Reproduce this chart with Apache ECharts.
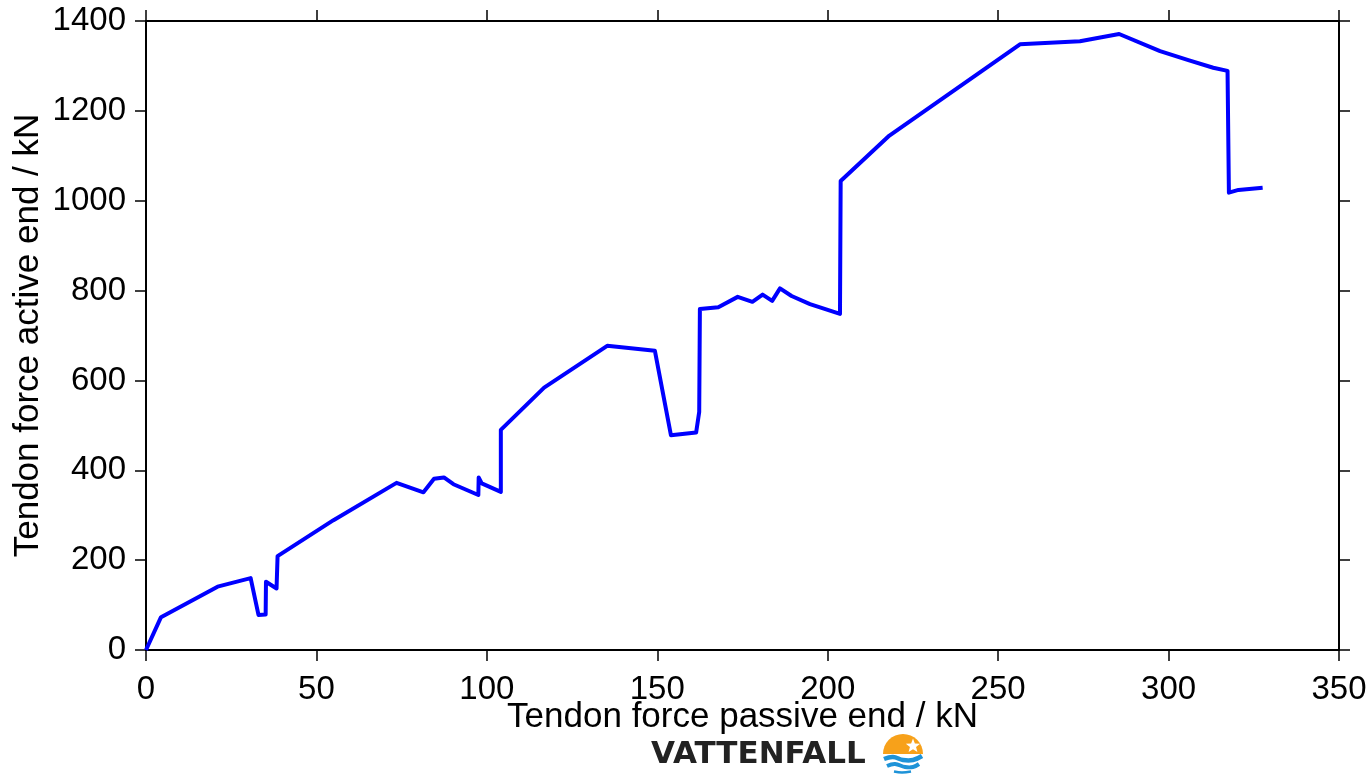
<!DOCTYPE html>
<html>
<head>
<meta charset="utf-8">
<script src="https://cdn.jsdelivr.net/npm/echarts@6/dist/echarts.min.js"></script>
<style>
html,body{margin:0;padding:0;background:#fff;}
#chart{width:1371px;height:779px;}
</style>
</head>
<body>
<div id="chart"></div>
<script>
// Tendon force passive end / kN
var passiveEnd = [0, 4.4, 21.0, 30.7, 33.0, 35.1, 35.2, 38.3, 38.6, 55.0, 73.5, 81.4, 84.5, 87.4, 90.2, 97.5, 97.6, 98.5, 104.1, 104.1, 116.8, 135.3, 149.3, 154.0, 161.4, 162.3, 162.5, 167.9, 173.6, 177.9, 180.9, 183.7, 186.0, 189.4, 194.8, 203.6, 203.8, 218.1, 256.4, 274.0, 285.5, 297.5, 305.8, 313.1, 317.3, 317.7, 320.5, 327.6];
// Tendon force active end / kN
var activeEnd = [0, 73, 141, 160, 78, 79, 152, 137, 209, 289, 372, 351, 381, 384, 369, 345, 384, 371, 352, 490, 584, 677, 666, 478, 484, 530, 759, 763, 786, 775, 791, 777, 805, 788, 770, 748, 1044, 1145, 1348, 1355, 1371, 1333, 1313, 1296, 1289, 1018, 1024, 1029];
var xTicks = [0, 50, 100, 150, 200, 250, 300, 350];
var yTicks = [0, 200, 400, 600, 800, 1000, 1200, 1400];

var seriesData = passiveEnd.map(function (v, i) { return [v, activeEnd[i]]; });

var FONT = '"Liberation Sans", Arial, sans-serif';
var axisLineStyle = { color: '#000', width: 2 };
var tickStyle = { show: true, inside: false, length: 11, lineStyle: { color: '#000', width: 1.5 } };
var plainFmt = function (v) { return String(v); };

function star(cx, cy, ro, ri) {
  var pts = [];
  for (var k = 0; k < 10; k++) {
    var r = k % 2 === 0 ? ro : ri;
    var a = -Math.PI / 2 + k * Math.PI / 5;
    pts.push([cx + r * Math.cos(a), cy + r * Math.sin(a)]);
  }
  return pts;
}

var chart = echarts.init(document.getElementById('chart'), null, { renderer: 'canvas' });
chart.setOption({
  animation: false,
  backgroundColor: '#fff',
  grid: { left: 146, right: 32, top: 21, bottom: 129, containLabel: false, outerBoundsMode: 'none' },
  xAxis: [{
    type: 'value', position: 'bottom', min: xTicks[0], max: xTicks[xTicks.length - 1], interval: 50,
    name: 'Tendon force passive end / kN', nameLocation: 'middle', nameGap: 50, nameMoveOverlap: false,
    nameTextStyle: { fontFamily: FONT, fontSize: 35, color: '#000' },
    axisLine: { show: true, onZero: false, lineStyle: axisLineStyle },
    axisTick: tickStyle,
    axisLabel: { show: true, margin: 23, fontFamily: FONT, fontSize: 33, color: '#000', formatter: plainFmt },
    splitLine: { show: false }
  }, {
    type: 'value', position: 'top', min: xTicks[0], max: xTicks[xTicks.length - 1], interval: 50,
    axisLine: { show: true, onZero: false, lineStyle: axisLineStyle },
    axisTick: tickStyle,
    axisLabel: { show: false },
    splitLine: { show: false }
  }],
  yAxis: [{
    type: 'value', position: 'left', min: yTicks[0], max: yTicks[yTicks.length - 1], interval: 200,
    name: 'Tendon force active end / kN', nameLocation: 'middle', nameGap: 100, nameMoveOverlap: false,
    nameTextStyle: { fontFamily: FONT, fontSize: 35, color: '#000' },
    axisLine: { show: true, onZero: false, lineStyle: axisLineStyle },
    axisTick: tickStyle,
    axisLabel: { show: true, margin: 20, fontFamily: FONT, fontSize: 33, color: '#000', formatter: plainFmt },
    splitLine: { show: false }
  }, {
    type: 'value', position: 'right', min: yTicks[0], max: yTicks[yTicks.length - 1], interval: 200,
    axisLine: { show: true, onZero: false, lineStyle: axisLineStyle },
    axisTick: tickStyle,
    axisLabel: { show: false },
    splitLine: { show: false }
  }],
  series: [{
    type: 'line',
    xAxisIndex: 0, yAxisIndex: 0,
    data: seriesData,
    showSymbol: false,
    symbol: 'none',
    lineStyle: { color: '#0000ff', width: 4, join: 'round' },
    clip: false
  }],
  graphic: [
    {
      type: 'text', left: 651, top: 739,
      style: { text: 'VATTENFALL', font: 'bold 31px "DejaVu Sans", sans-serif', fill: '#222' }
    },
    {
      type: 'group',
      children: [
        { type: 'sector', shape: { cx: 903, cy: 754, r: 20, r0: 0, startAngle: Math.PI, endAngle: 2 * Math.PI, clockwise: true }, style: { fill: '#f7a11a' } },
        { type: 'polygon', shape: { points: star(913, 746, 7.5, 3.2) }, style: { fill: '#fff' } },
        { type: 'polyline', shape: { points: [[884, 759], [893, 757], [903, 760], [913, 760], [922, 756]], smooth: 0.4 }, style: { stroke: '#1e93d8', lineWidth: 4.5, fill: null } },
        { type: 'polyline', shape: { points: [[887, 766], [895, 764], [905, 767], [913, 767], [919, 764]], smooth: 0.4 }, style: { stroke: '#1e93d8', lineWidth: 4, fill: null } },
        { type: 'polyline', shape: { points: [[894, 771.5], [902, 772.5], [911, 771.5]], smooth: 0.4 }, style: { stroke: '#1e93d8', lineWidth: 2.5, fill: null } }
      ]
    }
  ]
});
</script>
</body>
</html>
